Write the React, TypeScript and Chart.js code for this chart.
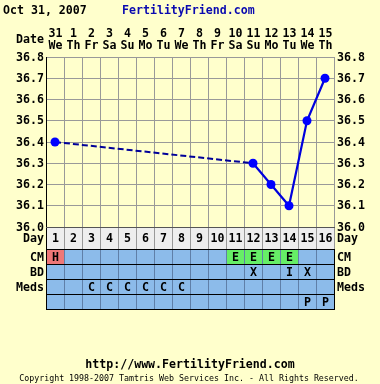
import React, { useEffect, useRef } from "react";
import { Chart, registerables } from "chart.js";

Chart.register(...registerables);

const dayNums = ["1", "2", "3", "4", "5", "6", "7", "8", "9", "10", "11", "12", "13", "14", "15", "16"];
const dateNums = ["31", "1", "2", "3", "4", "5", "6", "7", "8", "9", "10", "11", "12", "13", "14", "15"];
const weekdays = ["We", "Th", "Fr", "Sa", "Su", "Mo", "Tu", "We", "Th", "Fr", "Sa", "Su", "Mo", "Tu", "We", "Th"];
const temps: (number | null)[] = [36.4, null, null, null, null, null, null, null, null, null, null, 36.3, 36.2, 36.1, 36.5, 36.7];
const cmRow = ["H", "", "", "", "", "", "", "", "", "", "E", "E", "E", "E", "", ""];
const bdRow = ["", "", "", "", "", "", "", "", "", "", "", "X", "", "I", "X", ""];
const medsRow = ["", "", "C", "C", "C", "C", "C", "C", "", "", "", "", "", "", "", ""];
const extraRow = ["", "", "", "", "", "", "", "", "", "", "", "", "", "", "P", "P"];
const rowLabels = ["CM", "BD", "Meds", ""];
const yMin = 36.0;
const yMax = 36.8;
const dashedUntil = 11; // data index where the dashed (gap-spanning) segment ends

const FONT = '"DejaVu Sans Mono", monospace';
const BG = "#ffffcc";

const cellColors: Record<string, string> = { H: "#ee7777", E: "#66ee66" };

const drawPlugin = {
  id: "ffDecor",
  beforeDraw(chart: any) {
    const ctx = chart.ctx;
    ctx.save();
    ctx.fillStyle = BG;
    ctx.fillRect(0, 0, chart.width, chart.height);
    ctx.restore();
  },
  afterDraw(chart: any) {
    const ctx = chart.ctx;
    const xs = chart.scales.x;
    const ys = chart.scales.y;
    const left = Math.round(xs.left);
    const right = Math.round(xs.right);
    const colW = (xs.right - xs.left) / dayNums.length;
    const bottom = Math.round(ys.bottom);
    ctx.save();
    const bold = `bold 11.6px ${FONT}`;
    ctx.font = bold;
    ctx.textBaseline = "middle";
    ctx.fillStyle = "#000";

    // Header
    ctx.textAlign = "left";
    ctx.fillText("Oct 31, 2007", 3, 10.5);
    ctx.fillStyle = "#0a0ab0";
    ctx.fillText("FertilityFriend.com", 122, 10.5);
    ctx.fillStyle = "#000";

    // Date rows
    ctx.textAlign = "right";
    ctx.fillText("Date", 44, 39.5);
    ctx.textAlign = "center";
    dayNums.forEach((d, i) => {
      const cx = xs.getPixelForValue(i);
      ctx.fillText(dateNums[i], cx + 0.5, 33.5);
      ctx.fillText(weekdays[i], cx + 0.5, 46);
    });

    // Y tick labels both sides
    ys.ticks.forEach((t: any) => {
      const py = ys.getPixelForValue(t.value);
      const label = t.value.toFixed(1);
      ctx.textAlign = "right";
      ctx.fillText(label, 44, py + 0.5);
      ctx.textAlign = "left";
      ctx.fillText(label, right + 3, py + 0.5);
    });

    // Table
    const dayTop = bottom;
    const dayH = 22;
    const rowH = 15;
    const rowsTop = dayTop + dayH;
    const rows = [cmRow, bdRow, medsRow, extraRow];
    const tableBottom = rowsTop + rowH * rows.length;

    ctx.fillStyle = "#eeeeee";
    ctx.fillRect(left, dayTop, right - left, dayH);
    ctx.fillStyle = "#8cbbea";
    ctx.fillRect(left, rowsTop, right - left, rowH * rows.length);

    rows.forEach((r, ri) => {
      r.forEach((v, i) => {
        const c = cellColors[v];
        if (c && ri === 0) {
          const x0 = left + i * colW;
          ctx.fillStyle = c;
          ctx.fillRect(Math.round(x0) + 1, rowsTop + ri * rowH + 1, Math.round(colW) - 1, rowH - 1);
        }
      });
    });

    for (let i = 0; i <= dayNums.length; i++) {
      const x = Math.round(left + i * colW) + 0.5;
      ctx.strokeStyle = "#999999";
      ctx.lineWidth = 1;
      ctx.beginPath();
      ctx.moveTo(x, dayTop);
      ctx.lineTo(x, rowsTop);
      ctx.stroke();
      ctx.strokeStyle = i === 0 || i === dayNums.length ? "#000" : "#5f7fa8";
      ctx.beginPath();
      ctx.moveTo(x, rowsTop);
      ctx.lineTo(x, tableBottom);
      ctx.stroke();
    }
    ctx.strokeStyle = "#000";
    ctx.beginPath();
    ctx.moveTo(left + 0.5, dayTop);
    ctx.lineTo(left + 0.5, tableBottom);
    ctx.stroke();
    for (let r = 0; r <= rows.length; r++) {
      const y = rowsTop + r * rowH + 0.5;
      ctx.strokeStyle = "#000";
      ctx.beginPath();
      ctx.moveTo(left, y);
      ctx.lineTo(right + 1, y);
      ctx.stroke();
    }
    ctx.strokeStyle = "#555";
    ctx.beginPath();
    ctx.moveTo(left, dayTop + 0.5);
    ctx.lineTo(right + 1, dayTop + 0.5);
    ctx.stroke();

    ctx.fillStyle = "#000";
    ctx.font = bold;
    ctx.textAlign = "center";
    dayNums.forEach((d, i) => {
      const cx = xs.getPixelForValue(i);
      ctx.fillText(d, cx + 0.5, dayTop + dayH / 2 + 1);
      rows.forEach((r, ri) => {
        if (r[i]) ctx.fillText(r[i], cx + 0.5, rowsTop + ri * rowH + rowH / 2 + 1);
      });
    });
    ctx.textAlign = "right";
    ctx.fillText("Day", 44, dayTop + dayH / 2 + 1);
    rowLabels.forEach((l, ri) => {
      if (l) ctx.fillText(l, 44, rowsTop + ri * rowH + rowH / 2 + 1);
    });
    ctx.textAlign = "left";
    ctx.fillText("Day", right + 3, dayTop + dayH / 2 + 1);
    rowLabels.forEach((l, ri) => {
      if (l) ctx.fillText(l, right + 3, rowsTop + ri * rowH + rowH / 2 + 1);
    });

    ctx.textAlign = "center";
    ctx.fillText("http://www.FertilityFriend.com", 190, 365);
    ctx.font = `8.3px ${FONT}`;
    ctx.fillText("Copyright 1998-2007 Tamtris Web Services Inc. - All Rights Reserved.", 189, 379);
    ctx.restore();
  },
};

export default function App() {
  const ref = useRef<HTMLCanvasElement | null>(null);
  useEffect(() => {
    if (!ref.current) return;
    const chart = new Chart(ref.current, {
      type: "line",
      data: {
        labels: dayNums,
        datasets: [
          {
            data: temps,
            spanGaps: true,
            borderColor: "#0000dd",
            borderWidth: 2.2,
            pointRadius: 4.5,
            pointBackgroundColor: "#0000ff",
            pointBorderColor: "#0000ff",
            pointBorderWidth: 0,
            tension: 0,
            segment: {
              borderDash: (c: any) => (c.p1DataIndex <= dashedUntil ? [6, 3] : []),
              borderColor: (c: any) => (c.p1DataIndex <= dashedUntil ? "#000099" : "#0000dd"),
              borderWidth: (c: any) => (c.p1DataIndex <= dashedUntil ? 2 : 2.2),
            },
          },
        ],
      },
      options: {
        animation: false,
        responsive: false,
        devicePixelRatio: 1,
        events: [],
        layout: { padding: { left: 46, right: 46, top: 57, bottom: 157 } },
        plugins: { legend: { display: false }, tooltip: { enabled: false }, title: { display: false } },
        scales: {
          x: {
            type: "category",
            offset: true,
            grid: { offset: true, color: "#999999", lineWidth: 1, drawTicks: false },
            border: { display: true, color: "#555555" },
            ticks: { display: false },
            afterFit: (s: any) => {
              s.height = 0;
            },
          },
          y: {
            min: yMin,
            max: yMax,
            grid: { color: "#999999", lineWidth: 1, drawTicks: false },
            border: { display: true, color: "#000000" },
            ticks: { display: false, stepSize: 0.1 },
            afterFit: (s: any) => {
              s.width = 0;
            },
          },
        },
      },
      plugins: [drawPlugin],
    });
    return () => chart.destroy();
  }, []);
  return (
    <div style={{ position: "fixed", left: 0, top: 0, width: 380, height: 384, background: BG }}>
      <canvas ref={ref} width={380} height={384} style={{ display: "block" }} />
    </div>
  );
}
